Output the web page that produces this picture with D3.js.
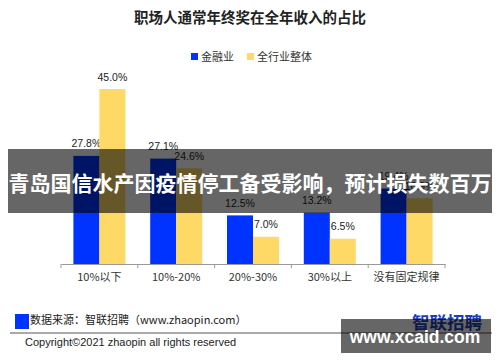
<!DOCTYPE html>
<html><head><meta charset="utf-8">
<script src="https://cdn.jsdelivr.net/npm/d3@7"></script>
<style>
html,body{margin:0;padding:0;background:#fff;}
svg{display:block;font-family:"Noto Sans CJK SC","Microsoft YaHei",sans-serif;}
</style></head>
<body>
<svg id="c" width="500" height="362"></svg>
<script>
const categories = ["10%以下", "10%-20%", "20%-30%", "30%以上", "没有固定规律"];
const seriesNames = ["金融业", "全行业整体"];
const finance = [27.8, 27.1, 12.5, 13.2, 19.4];
const overall = [45.0, 24.6, 7.0, 6.5, 16.9];
const colors = ["#0033ff", "#ffd966"];
const title = "职场人通常年终奖在全年收入的占比";

const svg = d3.select("#c");
const data = categories.map((c, i) => ({cat: c, vals: [finance[i], overall[i]]}));

const x = d3.scaleBand().domain(categories).range([61, 445]).padding(0);
const xs = d3.scaleBand().domain(seriesNames).range([0, x.bandwidth()]).paddingInner(0).paddingOuter(0.477);
const y = d3.scaleLinear().domain([0, 45]).range([264, 89]);

// title
svg.append("text").attr("x", 250).attr("y", 23).attr("text-anchor", "middle")
  .attr("font-size", 14.5).attr("font-weight", "bold").attr("fill", "#222").text(title);

// legend
const lg = svg.append("g");
const legX = [191, 247];
seriesNames.forEach((s, i) => {
  lg.append("rect").attr("x", legX[i]).attr("y", 53).attr("width", 7).attr("height", 7).attr("fill", colors[i]);
  lg.append("text").attr("x", legX[i] + 10).attr("y", 60.5).attr("font-size", 11).attr("fill", "#333").text(s);
});

// bars
const g = svg.append("g");
data.forEach(d => {
  d.vals.forEach((v, j) => {
    const bx = x(d.cat) + xs(seriesNames[j]);
    g.append("rect").attr("x", bx).attr("y", y(v)).attr("width", xs.bandwidth())
      .attr("height", y(0) - y(v)).attr("fill", colors[j]);
    g.append("text").attr("x", bx + xs.bandwidth() / 2).attr("y", y(v) - 8.5)
      .attr("text-anchor", "middle").attr("font-size", 10.5).attr("fill", "#222")
      .attr("font-family", "'Liberation Sans',Arial,sans-serif")
      .text(v.toFixed(1) + "%");
  });
});

// axis
const ax = svg.append("g").attr("transform", `translate(0,${y(0)})`)
  .call(d3.axisBottom(x).tickSize(0).tickPadding(9));
ax.select(".domain").attr("stroke", "#999");
ax.selectAll("text").attr("font-size", 11).attr("fill", "#333")
  .attr("font-family", "'Noto Sans CJK SC',sans-serif");
const bounds = categories.map(c => x(c)).concat([x.range()[1]]);
ax.selectAll(".bt").data(bounds).enter().append("line").attr("class", "bt")
  .attr("x1", d => d).attr("x2", d => d).attr("y1", 0).attr("y2", 4).attr("stroke", "#999");

// footer
svg.append("rect").attr("x", 15).attr("y", 314).attr("width", 14).attr("height", 15).attr("fill", "#0033ff");
svg.append("text").attr("x", 30).attr("y", 324).attr("font-size", 11).attr("fill", "#222")
  .text("数据来源：智联招聘（www.zhaopin.com）");
svg.append("line").attr("x1", 10).attr("x2", 492).attr("y1", 333).attr("y2", 333)
  .attr("stroke", "#555").attr("stroke-width", 1.2);
svg.append("text").attr("x", 25).attr("y", 346).attr("font-size", 11).attr("fill", "#222")
  .attr("font-family", "'Liberation Sans',Arial,sans-serif")
  .text("Copyright©2021 zhaopin all rights reserved");
svg.append("text").attr("x", 412).attr("y", 329).attr("font-size", 17.5).attr("font-weight", "bold")
  .attr("fill", "#1f3fb8").text("智联招聘");

// overlays
svg.append("rect").attr("x", 8).attr("y", 149).attr("width", 484).attr("height", 64).attr("fill", "rgba(0,0,0,0.6)");
svg.append("text").attr("x", 250).attr("y", 191).attr("text-anchor", "middle").attr("font-size", 21)
  .attr("font-weight", "bold").attr("fill", "#fff").text("青岛国信水产因疫情停工备受影响，预计损失数百万");
svg.append("rect").attr("x", 341).attr("y", 319).attr("width", 150).attr("height", 34).attr("fill", "rgba(0,0,0,0.6)");
svg.append("text").attr("x", 415).attr("y", 343).attr("text-anchor", "middle").attr("font-size", 17.5)
  .attr("font-weight", "bold").attr("fill", "#fff")
  .attr("font-family", "'Liberation Sans',Arial,sans-serif").text("www.xcaid.com");
</script>
</body></html>
